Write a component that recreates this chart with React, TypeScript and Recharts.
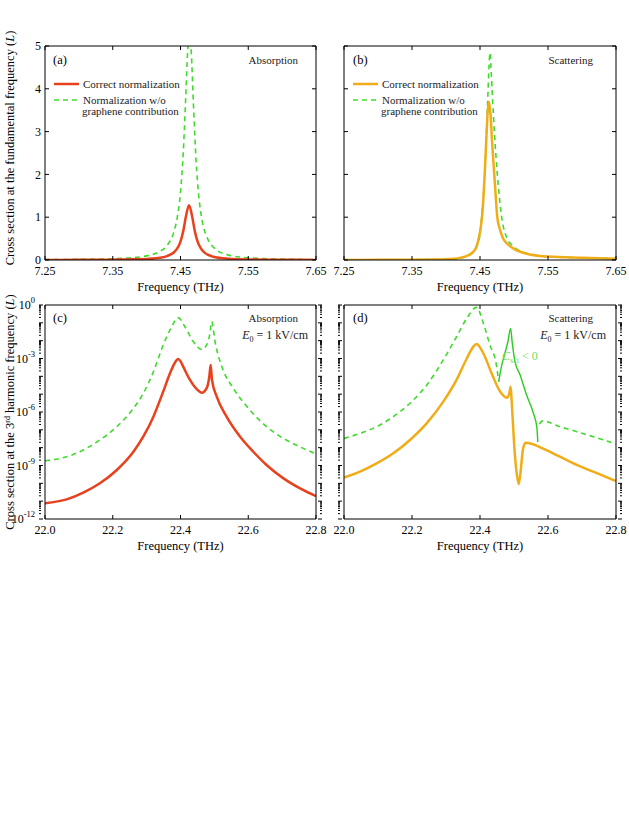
import React from 'react';
import { LineChart, Line, XAxis, YAxis } from 'recharts';

const FONT = '"Liberation Serif", "Times New Roman", serif';
const RED = '#E8411E';
const ORANGE = '#F0AD17';
const GREEN = '#3FDB2B';
const GREEN_SOLID = '#2CCB22';

// ---------- Panel (a): absorption at fundamental frequency ----------
const aFreqCorrect = [7.25, 7.3, 7.35, 7.38, 7.4, 7.42, 7.43, 7.44, 7.445, 7.45, 7.454, 7.458, 7.4626, 7.467, 7.471, 7.475, 7.48, 7.485, 7.49, 7.5, 7.52, 7.55, 7.6, 7.65];
const aCorrect = [0.0023, 0.0039, 0.0081, 0.015, 0.026, 0.055, 0.091, 0.175, 0.265, 0.43, 0.67, 1.015, 1.28, 1.033, 0.684, 0.44, 0.27, 0.178, 0.125, 0.07, 0.031, 0.013, 0.0055, 0.0029];
const aFreqNoGraphene = [7.25, 7.3, 7.35, 7.38, 7.4, 7.42, 7.43, 7.44, 7.445, 7.45, 7.454, 7.458, 7.4605, 7.4632, 7.466, 7.469, 7.473, 7.477, 7.482, 7.49, 7.5, 7.52, 7.55, 7.6, 7.65];
const aNoGraphene = [0.0087, 0.0148, 0.0307, 0.056, 0.097, 0.204, 0.336, 0.645, 0.975, 1.59, 2.49, 3.91, 4.86, 5.34, 4.83, 3.67, 2.32, 1.49, 0.92, 0.5, 0.277, 0.12, 0.052, 0.021, 0.0113];

// ---------- Panel (b): scattering at fundamental frequency ----------
const bFreqCorrect = [7.25, 7.3, 7.35, 7.38, 7.4, 7.42, 7.43, 7.44, 7.445, 7.448, 7.4505, 7.4529, 7.455, 7.4569, 7.4595, 7.4615, 7.4632, 7.4652, 7.468, 7.471, 7.4735, 7.4754, 7.48, 7.484, 7.49, 7.5, 7.52, 7.55, 7.6, 7.65];
const bCorrect = [0.002, 0.003, 0.006, 0.012, 0.02, 0.05, 0.09, 0.19, 0.31, 0.5, 0.7, 1.0, 1.45, 2.0, 2.9, 3.5, 3.7, 3.45, 2.7, 2.0, 1.4, 1.0, 0.68, 0.5, 0.38, 0.26, 0.14, 0.08, 0.05, 0.03];
const bFreqNoGraphene = [7.25, 7.3, 7.35, 7.38, 7.41, 7.43, 7.44, 7.445, 7.449, 7.4525, 7.457, 7.461, 7.4632, 7.4647, 7.466, 7.468, 7.4715, 7.4755, 7.4819, 7.49, 7.5, 7.52, 7.55, 7.6, 7.65];
const bNoGraphene = [0.003, 0.005, 0.008, 0.012, 0.02, 0.08, 0.2, 0.33, 0.5, 1.0, 2.0, 3.6, 4.5, 4.84, 4.55, 3.9, 2.9, 2.0, 1.0, 0.5, 0.31, 0.15, 0.08, 0.05, 0.035];

// ---------- Panel (c): absorption at 3rd harmonic ----------
const cFreqCorrect = [22.0, 22.064, 22.113, 22.162, 22.212, 22.261, 22.29, 22.32, 22.349, 22.369, 22.383, 22.393, 22.4, 22.408, 22.428, 22.448, 22.463, 22.477, 22.485, 22.489, 22.493, 22.507, 22.536, 22.576, 22.615, 22.654, 22.704, 22.753, 22.8];
const cCorrect = [7.6e-12, 1.26e-11, 3.0e-11, 1.0e-10, 5.6e-10, 5.9e-9, 4.1e-8, 5.5e-7, 1.4e-5, 1.5e-4, 5.6e-4, 9.3e-4, 7.1e-4, 3.5e-4, 6.3e-5, 1.9e-5, 1.2e-5, 2.1e-5, 9.5e-5, 4.3e-4, 6.3e-5, 7.2e-6, 5.5e-7, 4.1e-8, 5.9e-9, 1.07e-9, 1.9e-10, 5.2e-11, 1.9e-11];
const cFreqNoGraphene = [22.0, 22.064, 22.113, 22.162, 22.212, 22.261, 22.29, 22.32, 22.349, 22.374, 22.393, 22.413, 22.438, 22.463, 22.477, 22.487, 22.492, 22.502, 22.526, 22.556, 22.605, 22.654, 22.704, 22.753, 22.8];
const cNoGraphene = [1.86e-9, 3.1e-9, 7.4e-9, 2.7e-8, 1.5e-7, 1.6e-6, 1.1e-5, 1.8e-4, 5.8e-3, 6.0e-2, 0.195, 6.0e-2, 8.7e-3, 3.2e-3, 5.8e-3, 2.6e-2, 0.117, 8.7e-3, 2.2e-4, 2.1e-5, 1.3e-6, 1.5e-7, 3.3e-8, 1.1e-8, 4.5e-9];

// ---------- Panel (d): scattering at 3rd harmonic ----------
const dFreqCorrect = [22.0, 22.047, 22.096, 22.145, 22.194, 22.243, 22.292, 22.331, 22.361, 22.38, 22.39, 22.41, 22.434, 22.459, 22.479, 22.486, 22.49, 22.493, 22.498, 22.503, 22.508, 22.514, 22.52, 22.526, 22.534, 22.554, 22.584, 22.635, 22.685, 22.733, 22.8];
const dCorrect = [2.1e-10, 4.5e-10, 1.3e-9, 4.8e-9, 2.7e-8, 2.3e-7, 3.8e-6, 6.3e-5, 1.0e-3, 4.5e-3, 6.5e-3, 1.9e-3, 1.5e-4, 1.4e-5, 6.3e-6, 1.1e-5, 2.6e-5, 4.7e-6, 9.8e-8, 3.1e-9, 3.6e-10, 9.1e-11, 5.6e-10, 7.4e-9, 1.9e-8, 1.6e-8, 9.1e-9, 3.1e-9, 1.07e-9, 4.5e-10, 1.35e-10];
const dFreqNoGrapheneLeft = [22.0, 22.047, 22.096, 22.145, 22.194, 22.243, 22.292, 22.331, 22.361, 22.39, 22.41, 22.429, 22.449, 22.455];
const dNoGrapheneLeft = [3.3e-8, 6.3e-8, 1.5e-7, 5.5e-7, 3.1e-6, 3.2e-5, 8.3e-4, 1.66e-2, 0.178, 0.74, 9.3e-2, 5.8e-3, 3.5e-4, 5.0e-5];
const dFreqNegative = [22.455, 22.463, 22.473, 22.482, 22.49, 22.495, 22.503, 22.518, 22.537, 22.557, 22.567, 22.57];
const dNegative = [5.0e-5, 3.5e-4, 1.9e-3, 8.7e-3, 4.9e-2, 7.1e-3, 6.6e-4, 1.2e-4, 8.9e-6, 8.5e-7, 1.5e-7, 2.1e-8];
const dFreqNoGrapheneRight = [22.575, 22.584, 22.635, 22.685, 22.733, 22.8];
const dNoGrapheneRight = [2.1e-7, 3.2e-7, 1.5e-7, 7.9e-8, 4.1e-8, 1.6e-8];

// ---------- Axis ticks ----------
const fundTicks = [7.25, 7.35, 7.45, 7.55, 7.65];
const harmTicks = [22.0, 22.2, 22.4, 22.6, 22.8];
const linYTicks = [0, 1, 2, 3, 4, 5];
const logYTicks: number[] = [];
for (let e = -12; e <= 0; e++) {
  logYTicks.push(Math.pow(10, e));
  if (e < 0) for (let m = 2; m <= 9; m++) logYTicks.push(m * Math.pow(10, e));
}

const zip = (xs: number[], ys: number[]) => xs.map((x, i) => ({ x, y: ys[i] }));

const NoTick = () => <g />;

const decadeInfo = (v: number) => {
  const lg = Math.log10(v);
  const exp = Math.round(lg);
  const isDecade = Math.abs(lg - exp) < 1e-6;
  return { exp, isDecade };
};

// left log axis: draws its own inward tick mark and (every 3 decades) a 10^n label
const LogTickLeft = (withLabel: boolean) => (props: any) => {
  const { x, y, payload } = props;
  const { exp, isDecade } = decadeInfo(payload.value);
  const px = x + 4;
  const len = isDecade ? 4 : 2;
  return (
    <g>
      <line x1={px} x2={px + len} y1={y} y2={y} stroke="#000" strokeWidth={1} />
      {withLabel && isDecade && exp % 3 === 0 && (
        <text x={x} y={y + 4} textAnchor="end" fontSize={12} fontFamily={FONT} fill="#000">
          10
          <tspan dy={-6} fontSize={8.5}>{exp}</tspan>
        </text>
      )}
    </g>
  );
};

const LogTickRight = (props: any) => {
  const { x, y, payload } = props;
  const { isDecade } = decadeInfo(payload.value);
  const len = isDecade ? 4 : 2;
  return <line x1={x} x2={x - len} y1={y} y2={y} stroke="#000" strokeWidth={1} />;
};

type Series = { data: { x: number; y: number }[]; color: string; width: number; dash?: string };

type PanelProps = {
  left: number;
  top: number;
  width: number;
  height: number;
  margin: { top: number; right: number; bottom: number; left: number };
  yWidth: number;
  xHeight: number;
  xDomain: [number, number];
  xTicks: number[];
  xDigits: number;
  log: boolean;
  yLabels: boolean;
  series: Series[];
};

function Panel(p: PanelProps) {
  const yDomain: [number, number] = p.log ? [1e-12, 1] : [0, 5];
  const tickStyle = { fontSize: 12, fontFamily: FONT, fill: '#000' };
  return (
    <div style={{ position: 'absolute', left: p.left, top: p.top }}>
      <LineChart width={p.width} height={p.height} margin={p.margin}>
        <XAxis
          xAxisId="main"
          dataKey="x"
          type="number"
          domain={p.xDomain}
          allowDataOverflow
          ticks={p.xTicks}
          interval={0}
          height={p.xHeight}
          tickSize={-4}
          tickMargin={10}
          stroke="#000"
          tick={tickStyle}
          tickFormatter={(v: number) => v.toFixed(p.xDigits)}
        />
        <XAxis
          xAxisId="top"
          orientation="top"
          dataKey="x"
          type="number"
          domain={p.xDomain}
          allowDataOverflow
          ticks={p.xTicks}
          interval={0}
          height={1}
          tickSize={-4}
          stroke="#000"
          tick={NoTick}
        />
        {p.log ? (
          <YAxis
            yAxisId="main"
            type="number"
            scale="log"
            domain={yDomain}
            allowDataOverflow
            ticks={logYTicks}
            interval={0}
            width={p.yWidth}
            tickLine={false}
            tickMargin={4}
            stroke="#000"
            tick={LogTickLeft(p.yLabels)}
          />
        ) : (
          <YAxis
            yAxisId="main"
            type="number"
            domain={yDomain}
            allowDataOverflow
            ticks={linYTicks}
            interval={0}
            width={p.yWidth}
            tickSize={-4}
            tickMargin={8}
            stroke="#000"
            tick={p.yLabels ? tickStyle : NoTick}
          />
        )}
        {p.log ? (
          <YAxis
            yAxisId="right"
            orientation="right"
            type="number"
            scale="log"
            domain={yDomain}
            allowDataOverflow
            ticks={logYTicks}
            interval={0}
            width={1}
            tickLine={false}
            tickMargin={0}
            stroke="#000"
            tick={LogTickRight}
          />
        ) : (
          <YAxis
            yAxisId="right"
            orientation="right"
            type="number"
            domain={yDomain}
            allowDataOverflow
            ticks={linYTicks}
            interval={0}
            width={1}
            tickSize={-4}
            stroke="#000"
            tick={NoTick}
          />
        )}
        {p.series.map((s, i) => (
          <Line
            key={i}
            xAxisId="main"
            yAxisId="main"
            data={s.data}
            dataKey="y"
            type="monotone"
            stroke={s.color}
            strokeWidth={s.width}
            strokeDasharray={s.dash}
            dot={false}
            activeDot={false}
            isAnimationActive={false}
          />
        ))}
      </LineChart>
    </div>
  );
}

const E0Label = ({ x, y }: { x: number; y: number }) => (
  <text x={x} y={y} textAnchor="end" fontSize={12} fontFamily={FONT} fill="#222">
    <tspan fontStyle="italic">E</tspan>
    <tspan dy={3} fontSize={8}>0</tspan>
    <tspan dy={-3}> = 1 kV/cm</tspan>
  </text>
);

const Legend = ({ x, y, color }: { x: number; y: number; color: string }) => (
  <g fontFamily={FONT} fontSize={11} fill="#222">
    <line x1={x} x2={x + 25} y1={y} y2={y} stroke={color} strokeWidth={2.5} />
    <text x={x + 29} y={y + 4}>Correct normalization</text>
    <line x1={x} x2={x + 25} y1={y + 16} y2={y + 16} stroke={GREEN} strokeWidth={1.6} strokeDasharray="5 4" />
    <text x={x + 29} y={y + 20}>Normalization w/o</text>
    <text x={x + 28} y={y + 31}>graphene contribution</text>
  </g>
);

export default function App() {
  const topMargin = { top: 45, right: 13, bottom: 0, left: 10 };
  const topMarginR = { top: 45, right: 12, bottom: 0, left: 13 };
  const botMargin = { top: 24, right: 13, bottom: 0, left: 10 };
  const botMarginR = { top: 24, right: 12, bottom: 0, left: 13 };
  return (
    <div style={{ position: 'absolute', left: 0, top: 0, width: 629, height: 831, background: '#fff' }}>
      <Panel
        left={0} top={0} width={330} height={300} margin={topMargin} yWidth={35} xHeight={40}
        xDomain={[7.25, 7.65]} xTicks={fundTicks} xDigits={2} log={false} yLabels
        series={[
          { data: zip(aFreqNoGraphene, aNoGraphene), color: GREEN, width: 1.6, dash: '5 4' },
          { data: zip(aFreqCorrect, aCorrect), color: RED, width: 2.5 },
        ]}
      />
      <Panel
        left={330} top={0} width={299} height={300} margin={topMarginR} yWidth={1} xHeight={40}
        xDomain={[7.25, 7.65]} xTicks={fundTicks} xDigits={2} log={false} yLabels={false}
        series={[
          { data: zip(bFreqNoGraphene, bNoGraphene), color: GREEN, width: 1.6, dash: '5 4' },
          { data: zip(bFreqCorrect, bCorrect), color: ORANGE, width: 2.5 },
        ]}
      />
      <Panel
        left={0} top={280} width={330} height={280} margin={botMargin} yWidth={35} xHeight={41}
        xDomain={[22.0, 22.8]} xTicks={harmTicks} xDigits={1} log yLabels
        series={[
          { data: zip(cFreqNoGraphene, cNoGraphene), color: GREEN, width: 1.6, dash: '5 4' },
          { data: zip(cFreqCorrect, cCorrect), color: RED, width: 2.5 },
        ]}
      />
      <Panel
        left={330} top={280} width={299} height={280} margin={botMarginR} yWidth={1} xHeight={41}
        xDomain={[22.0, 22.8]} xTicks={harmTicks} xDigits={1} log yLabels={false}
        series={[
          { data: zip(dFreqNoGrapheneLeft, dNoGrapheneLeft), color: GREEN, width: 1.6, dash: '5 4' },
          { data: zip(dFreqNegative, dNegative), color: GREEN_SOLID, width: 1.4 },
          { data: zip(dFreqNoGrapheneRight, dNoGrapheneRight), color: GREEN, width: 1.6, dash: '5 4' },
          { data: zip(dFreqCorrect, dCorrect), color: ORANGE, width: 2.5 },
        ]}
      />
      <svg width={629} height={831} style={{ position: 'absolute', left: 0, top: 0, pointerEvents: 'none' }}>
        <g fontFamily={FONT} fill="#000">
          <text transform="translate(14,148) rotate(-90)" textAnchor="middle" fontSize={12.5}>
            Cross section at the fundamental frequency (<tspan fontStyle="italic">L</tspan>)
          </text>
          <text transform="translate(14,412) rotate(-90)" textAnchor="middle" fontSize={12.5}>
            Cross section at the 3<tspan dy={-4} fontSize={8}>rd</tspan><tspan dy={4}> harmonic frequency (</tspan><tspan fontStyle="italic">L</tspan>)
          </text>
          <text x={180.5} y={291} textAnchor="middle" fontSize={12.5}>Frequency (THz)</text>
          <text x={480} y={291} textAnchor="middle" fontSize={12.5}>Frequency (THz)</text>
          <text x={180.5} y={550} textAnchor="middle" fontSize={12.5}>Frequency (THz)</text>
          <text x={480} y={550} textAnchor="middle" fontSize={12.5}>Frequency (THz)</text>
          <text x={53} y={64} fontSize={12.5}>(a)</text>
          <text x={353} y={64} fontSize={12.5}>(b)</text>
          <text x={53} y={322} fontSize={12.5}>(c)</text>
          <text x={353} y={322} fontSize={12.5}>(d)</text>
          <text x={298} y={64} textAnchor="end" fontSize={11} fill="#222">Absorption</text>
          <text x={593} y={64} textAnchor="end" fontSize={11} fill="#222">Scattering</text>
          <text x={298} y={322} textAnchor="end" fontSize={11} fill="#222">Absorption</text>
          <text x={593} y={322} textAnchor="end" fontSize={11} fill="#222">Scattering</text>
        </g>
        <E0Label x={308} y={339} />
        <E0Label x={606} y={339} />
        <Legend x={54} y={84} color={RED} />
        <Legend x={353} y={84} color={ORANGE} />
        <text x={502} y={360} fontFamily={FONT} fontSize={12} fill="#6FDC5E">
          <tspan fontStyle="italic">C</tspan>
          <tspan dy={3} fontSize={8}>sct</tspan>
          <tspan dy={-3}> &lt; 0</tspan>
        </text>
      </svg>
    </div>
  );
}
